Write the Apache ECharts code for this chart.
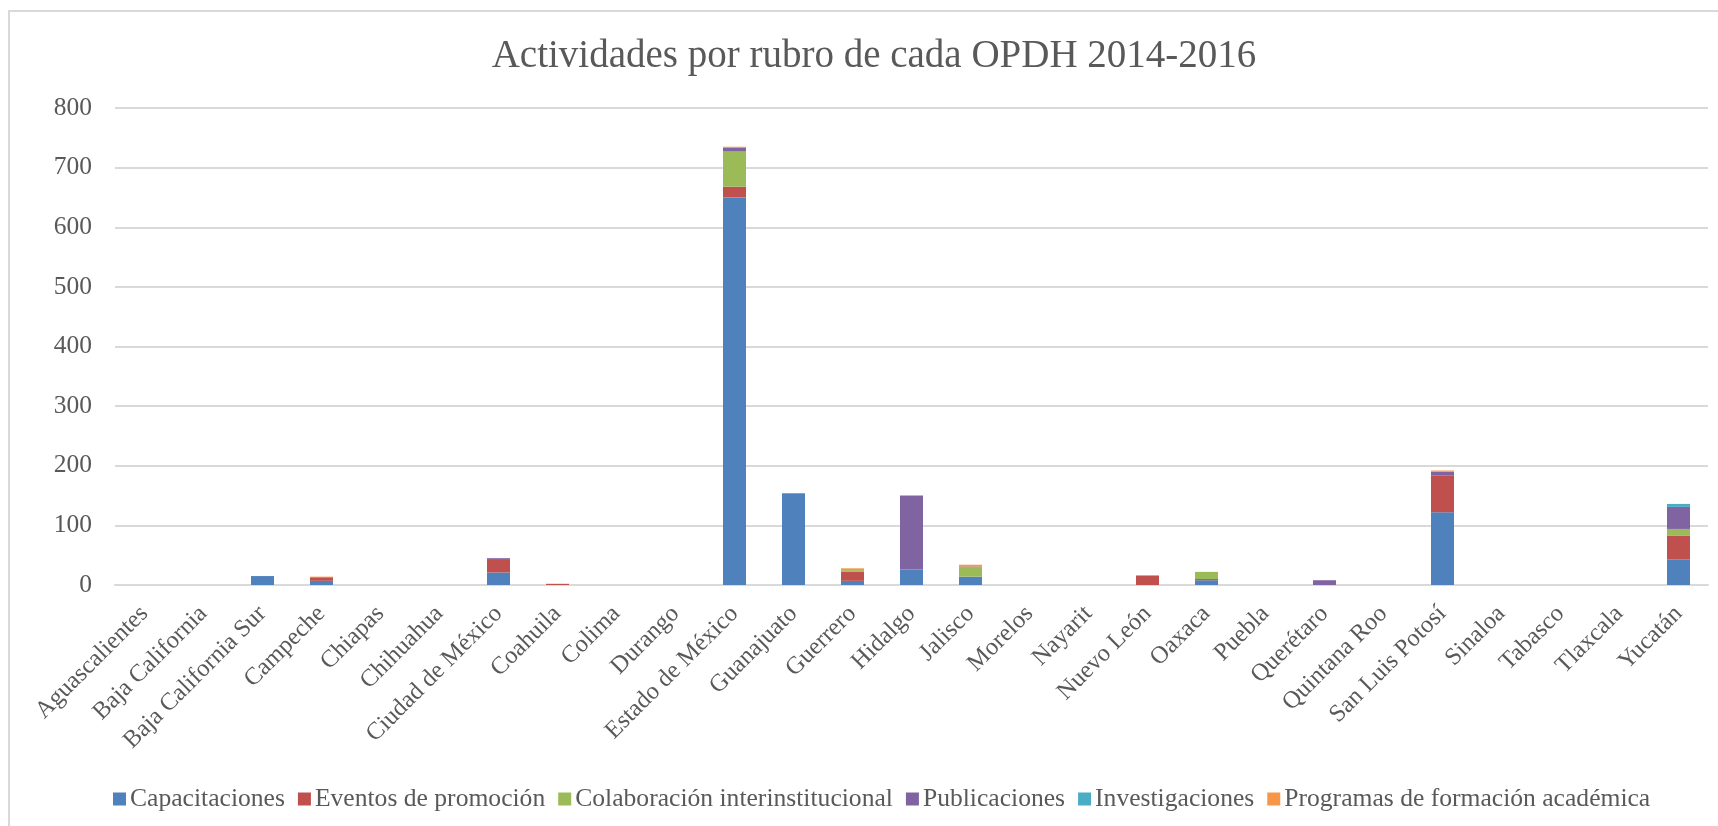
<!DOCTYPE html>
<html>
<head>
    <meta charset="utf-8"/>
    <title>Actividades por rubro de cada OPDH 2014-2016</title>
    <script src="https://cdn.jsdelivr.net/npm/echarts@6/dist/echarts.min.js"></script>
    <style>
        html, body { margin: 0; padding: 0; background: #fff; }
        #chart { width: 1718px; height: 826px; }
    </style>
</head>
<body>
<div id="chart"></div>
<script type="text/javascript">
    // entidades (eje X)
    var estados = ['Aguascalientes', 'Baja California', 'Baja California Sur', 'Campeche', 'Chiapas',
        'Chihuahua', 'Ciudad de México', 'Coahuila', 'Colima', 'Durango', 'Estado de México',
        'Guanajuato', 'Guerrero', 'Hidalgo', 'Jalisco', 'Morelos', 'Nayarit', 'Nuevo León',
        'Oaxaca', 'Puebla', 'Querétaro', 'Quintana Roo', 'San Luis Potosí', 'Sinaloa',
        'Tabasco', 'Tlaxcala', 'Yucatán'];

    // actividades por rubro
    var capacitaciones = [0, 0, 15, 7, 0, 0, 21, 0, 0, 0, 650, 153, 7, 26, 14, 0, 0, 0, 8, 0, 0, 0, 122, 0, 0, 0, 43];
    var eventos        = [0, 0, 0, 6, 0, 0, 21, 2, 0, 0, 18, 0, 15, 0, 0, 0, 0, 16, 2, 0, 0, 0, 62, 0, 0, 0, 40];
    var colaboracion   = [0, 0, 0, 0, 0, 0, 0, 0, 0, 0, 59, 0, 3, 0, 16, 0, 0, 0, 12, 0, 0, 0, 0, 0, 0, 0, 11];
    var publicaciones  = [0, 0, 0, 0, 0, 0, 3, 0, 0, 0, 6, 1, 0, 124, 1, 0, 0, 0, 0, 0, 8, 0, 6, 0, 0, 0, 37];
    var investigaciones = [0, 0, 0, 0, 0, 0, 0, 0, 0, 0, 0, 0, 0, 0, 0, 0, 0, 0, 0, 0, 0, 0, 0, 0, 0, 0, 5];
    var programas      = [0, 0, 0, 1, 0, 0, 0, 0, 0, 0, 2, 0, 3, 0, 3, 0, 0, 0, 0, 0, 0, 0, 2, 0, 0, 0, 0];

    var rubros = ['Capacitaciones', 'Eventos de promoción', 'Colaboración interinstitucional',
        'Publicaciones', 'Investigaciones', 'Programas de formación académica'];
    var valores = [capacitaciones, eventos, colaboracion, publicaciones, investigaciones, programas];
    var colores = ['#4F81BD', '#C0504D', '#9BBB59', '#8064A2', '#4BACC6', '#F79646'];

    var fuente = "'Liberation Serif', 'Times New Roman', serif";
    var gris = '#595959';

    var myChart = echarts.init(document.getElementById('chart'));

    var series = [];
    for (var i = 0; i < rubros.length; i++) {
        series.push({
            name: rubros[i],
            type: 'bar',
            stack: 'total',
            barWidth: 23,
            itemStyle: { color: colores[i] },
            data: valores[i]
        });
    }

    myChart.setOption({
        animation: false,
        color: colores,
        textStyle: { fontFamily: fuente },
        graphic: [{
            type: 'rect',
            silent: true,
            z: -10,
            shape: { x: 9, y: 11, width: 1800, height: 900 },
            style: { fill: 'none', stroke: '#d9d9d9', lineWidth: 2 }
        }],
        title: {
            text: 'Actividades por rubro de cada OPDH 2014-2016',
            left: 869,
            textAlign: 'center',
            top: 32,
            textStyle: { fontFamily: fuente, fontSize: 39, fontWeight: 'normal', color: gris }
        },
        legend: {
            left: 108,
            top: 781,
            itemWidth: 13,
            itemHeight: 13,
            itemGap: 13,
            icon: 'rect',
            textStyle: { fontFamily: fuente, fontSize: 25.6, color: gris, padding: [0, 0, 0, -1] },
            data: rubros
        },
        grid: {
            left: 115,
            right: 10,
            top: 108,
            bottom: 241,
            containLabel: false
        },
        xAxis: {
            type: 'category',
            data: estados,
            axisTick: { show: false },
            axisLine: { lineStyle: { color: '#d9d9d9', width: 2 } },
            axisLabel: {
                rotate: 45,
                interval: 0,
                margin: 25,
                fontFamily: fuente,
                fontSize: 24.5,
                color: gris
            }
        },
        yAxis: {
            type: 'value',
            min: 0,
            max: 800,
            interval: 100,
            axisLine: { show: false },
            axisTick: { show: false },
            splitLine: { lineStyle: { color: '#d9d9d9', width: 2 } },
            axisLabel: {
                margin: 23,
                fontFamily: fuente,
                fontSize: 25.5,
                color: gris
            }
        },
        series: series
    });
</script>
</body>
</html>
